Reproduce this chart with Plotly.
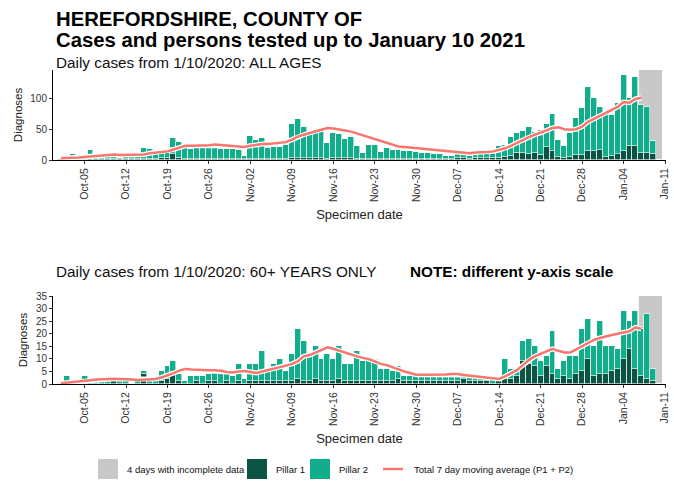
import plotly.graph_objects as go
import pandas as pd

# ---------------- DATA ----------------
dates = pd.date_range("2020-10-01", "2021-01-10", freq="D")

# ALL AGES: total daily cases (P1+P2) and Pillar 1 part
all_total = [2, 3, 9, 3, 4, 16, 5, 6, 5, 5, 4, 5, 6, 7, 20, 18, 12, 12, 13, 36, 30,
             20, 18, 19, 20, 21, 19, 18, 18, 18, 17,
             7, 39, 33, 35, 20, 21, 21, 25, 59, 66, 54, 43, 44, 47, 27, 43, 42, 34, 38, 23,
             12, 24, 24, 13, 19, 16, 16, 14, 14, 13,
             12, 12, 10, 9, 7, 7, 14, 8, 7, 9, 10, 9, 12, 22, 24, 38, 44, 47, 54, 46, 49,
             58, 74, 32, 22, 43, 68, 84, 119, 100, 86,
             78, 73, 92, 138, 100, 135, 90, 86, 31, 0]
all_pillar1 = [0, 0, 1, 0, 0, 1, 1, 1, 1, 1, 1, 1, 1, 1, 2, 2, 2, 3, 4, 9, 3,
               2, 2, 2, 2, 2, 2, 2, 2, 2, 2,
               1, 2, 2, 2, 2, 2, 2, 2, 3, 3, 3, 3, 3, 3, 2, 3, 3, 3, 3, 2,
               2, 2, 2, 2, 2, 2, 2, 2, 2, 2,
               2, 2, 2, 2, 2, 2, 3, 3, 2, 3, 3, 3, 3, 3, 5, 6, 11, 12, 9, 12, 8,
               21, 14, 5, 3, 5, 8, 8, 15, 14, 16,
               5, 7, 9, 15, 23, 23, 11, 11, 10, 0]
all_avg = [3, 3, 4, 4, 5, 6, 7, 8, 9, 9, 8, 8, 8, 8, 9, 11, 12, 13, 14, 17, 20,
           23, 23, 23, 24, 24, 25, 24, 23, 23, 22,
           21, 23, 25, 26, 26, 27, 27, 29, 33, 38, 41, 44, 47, 50, 52, 51, 50, 48, 46, 43,
           40, 37, 33, 30, 27, 24, 22, 21, 20, 19,
           18, 18, 17, 16, 15, 13, 12, 11, 11, 12, 12, 13, 14, 16, 19, 23, 28, 33, 37, 41, 44,
           48, 52, 53, 50, 49, 50, 54, 62, 67, 72,
           77, 82, 86, 94, 93, 99, 101, None, None, None]

# 60+ YEARS ONLY
old_total = [0, 3, 0, 1, 3, 1, 1, 1, 1, 1, 1, 1, 0, 1, 5, 2, 2, 5, 7, 9, 4,
             1, 3, 3, 3, 4, 5, 4, 4, 3, 8,
             2, 8, 8, 13, 6, 8, 10, 5, 12, 22, 17, 11, 15, 10, 12, 10, 15, 8, 8, 13,
             9, 9, 10, 6, 6, 5, 7, 3, 3, 4,
             4, 3, 3, 4, 3, 3, 3, 4, 3, 3, 2, 2, 2, 2, 10, 6, 6, 17, 18, 15, 9,
             11, 21, 6, 9, 11, 11, 22, 26, 15, 25,
             15, 15, 14, 29, 25, 29, 22, 28, 6, 0]
old_pillar1 = [0, 0, 0, 0, 0, 0, 0, 0, 0, 1, 0, 0, 0, 0, 4, 0, 0, 1, 2, 4, 1,
               0, 0, 1, 0, 1, 1, 0, 1, 0, 1,
               0, 1, 1, 1, 1, 1, 1, 1, 1, 2, 1, 1, 2, 1, 1, 1, 2, 1, 1, 1,
               1, 1, 1, 1, 1, 1, 2, 1, 1, 1,
               1, 1, 1, 1, 1, 1, 1, 2, 1, 1, 1, 1, 0, 1, 2, 2, 3, 9, 8, 7, 3,
               7, 4, 2, 3, 2, 4, 5, 10, 3, 4,
               4, 5, 6, 10, 14, 6, 3, 2, 1, 0]
old_avg = [0.3, 0.5, 0.6, 0.8, 1.2, 1.5, 1.8, 2.0, 2.1, 2.1, 2.0, 2.0, 1.8, 1.6, 1.7, 1.8, 2.0,
           2.6, 3.3, 4.3, 5.3, 6.0, 5.8, 5.6, 5.5, 5.5, 5.5, 5.3, 4.8, 4.6, 5.0,
           5.2, 4.8, 4.4, 5.0, 5.5, 6.2, 6.8, 7.3, 8.0, 9.0, 11.0, 11.5, 12.5, 13.6, 14.6,
           14.0, 13.2, 12.3, 11.7, 11.0, 10.4, 9.9, 9.0, 8.0, 7.5, 6.5, 5.8, 5.0, 4.2, 3.7,
           3.7, 3.7, 3.7, 3.6, 3.8, 4.0, 4.0, 3.6, 3.3, 3.0, 2.7, 2.4, 2.2, 2.0, 3.0, 4.3,
           5.5, 7.5, 9.5, 11.0, 12.0, 13.0, 14.0, 13.2, 12.5, 12.5, 13.8, 15.0, 16.5, 17.5,
           18.3, 19.0, 19.5, 20.0, 20.5, 21.0, 22.5, 22.0, None, None, None]

tick_dates = ["2020-10-05", "2020-10-12", "2020-10-19", "2020-10-26", "2020-11-02",
              "2020-11-09", "2020-11-16", "2020-11-23", "2020-11-30", "2020-12-07",
              "2020-12-14", "2020-12-21", "2020-12-28", "2021-01-04", "2021-01-11"]
tick_labels = ["Oct-05", "Oct-12", "Oct-19", "Oct-26", "Nov-02", "Nov-09", "Nov-16",
               "Nov-23", "Nov-30", "Dec-07", "Dec-14", "Dec-21", "Dec-28", "Jan-04", "Jan-11"]

all_pillar2 = [t - p for t, p in zip(all_total, all_pillar1)]
old_pillar2 = [t - p for t, p in zip(old_total, old_pillar1)]

# ---------------- STYLE ----------------
W, H = 674, 482
C_P1 = "#0b5443"
C_P2 = "#12ad8b"
C_GREY = "#c8c8c8"
C_LINE = "#f8766d"
FONT = "Liberation Sans, Arial, sans-serif"


def px_x(x):
    return x / W


def px_y(y):
    return 1 - y / H


fig = go.Figure()

for xa, ya, p1, p2, avg in [("x", "y", all_pillar1, all_pillar2, all_avg),
                            ("x2", "y2", old_pillar1, old_pillar2, old_avg)]:
    fig.add_trace(go.Bar(x=dates, y=p1, name="Pillar 1", marker_color=C_P1,
                         marker_line=dict(color="white", width=0.6),
                         xaxis=xa, yaxis=ya, showlegend=False))
    fig.add_trace(go.Bar(x=dates, y=p2, name="Pillar 2", marker_color=C_P2,
                         marker_line=dict(color="white", width=0.6),
                         xaxis=xa, yaxis=ya, showlegend=False))
    fig.add_trace(go.Scatter(x=dates, y=avg, mode="lines", line=dict(color="white", width=5),
                             xaxis=xa, yaxis=ya, showlegend=False, hoverinfo="skip"))
    fig.add_trace(go.Scatter(x=dates, y=avg, mode="lines", name="Total 7 day moving average (P1 + P2)",
                             line=dict(color=C_LINE, width=2.5),
                             xaxis=xa, yaxis=ya, showlegend=False))

xdom = [px_x(53), px_x(666)]
xrange_ = ["2020-09-29 16:00", "2021-01-11 04:00"]
common_x = dict(type="date", range=xrange_, tickvals=tick_dates, ticktext=tick_labels,
                tickangle=-90, ticks="outside", ticklen=3, tickcolor="#333", automargin=False,
                ticklabeloverflow="allow",
                showline=True, linecolor="black", linewidth=1, showgrid=False, zeroline=False,
                tickfont=dict(size=10.5, color="#333", family=FONT),
                title=dict(text="Specimen date", font=dict(size=13, color="#222", family=FONT), standoff=8))
common_y = dict(ticks="outside", ticklen=3, tickcolor="#333", showline=True, linecolor="black",
                linewidth=1, showgrid=False, zeroline=False, automargin=False,
                tickfont=dict(size=10, color="#333", family=FONT),
                title=dict(text="Diagnoses", font=dict(size=11.5, color="#222", family=FONT), standoff=5))

fig.update_layout(
    width=W, height=H, margin=dict(l=0, r=0, t=0, b=0, autoexpand=False),
    plot_bgcolor="white", paper_bgcolor="white",
    barmode="stack", bargap=0, showlegend=False,
    font=dict(family=FONT),
    xaxis=dict(domain=xdom, anchor="y", **common_x),
    yaxis=dict(domain=[px_y(160), px_y(70)], anchor="x", range=[0, 146], tickvals=[0, 50, 100], **common_y),
    xaxis2=dict(domain=xdom, anchor="y2", **common_x),
    yaxis2=dict(domain=[px_y(384), px_y(296)], anchor="x2", range=[0, 35],
                tickvals=[0, 5, 10, 15, 20, 25, 30, 35], **common_y),
)

# incomplete-data shading
for yr in ["y domain", "y2 domain"]:
    fig.add_shape(type="rect", xref="x" if yr == "y domain" else "x2", yref=yr,
                  x0="2021-01-06 14:00", x1="2021-01-10 12:00", y0=0, y1=1,
                  fillcolor=C_GREY, line=dict(width=0), layer="below")


def note(text, x, y, size, bold=False, color="black", xanchor="left"):
    fig.add_annotation(text=f"<b>{text}</b>" if bold else text, x=px_x(x), y=px_y(y),
                       xref="paper", yref="paper", xanchor=xanchor, yanchor="middle",
                       showarrow=False, font=dict(size=size, color=color, family=FONT))


note("HEREFORDSHIRE, COUNTY OF", 54, 19, 20.3, bold=True)
note("Cases and persons tested up to January 10 2021", 54, 40, 20.3, bold=True)
note("Daily cases from 1/10/2020: ALL AGES", 54, 63, 15.3, color="#111")
note("Daily cases from 1/10/2020: 60+ YEARS ONLY", 54, 271, 15.3, color="#111")
note("NOTE: different y-axis scale", 408, 271, 15.3, bold=True)

# legend (drawn)
legend_items = [("rect", C_GREY, "4 days with incomplete data", 98, 125),
                ("rect", C_P1, "Pillar 1", 247, 274),
                ("rect", C_P2, "Pillar 2", 310, 337),
                ("line", C_LINE, "Total 7 day moving average (P1 + P2)", 383, 412)]
LY = 469
for kind, col, label, x0, tx in legend_items:
    if kind == "rect":
        fig.add_shape(type="rect", xref="paper", yref="paper", x0=px_x(x0), x1=px_x(x0 + 20),
                      y0=px_y(LY + 10), y1=px_y(LY - 10), fillcolor=col, line=dict(width=0))
    else:
        fig.add_shape(type="line", xref="paper", yref="paper", x0=px_x(x0), x1=px_x(x0 + 20),
                      y0=px_y(LY), y1=px_y(LY), line=dict(color=col, width=2.5))
    note(label, tx, LY, 9.5, color="#111")

fig.write_html("out.html", config={"displayModeBar": False},
               post_script="document.body.style.margin='0';document.body.style.overflow='hidden';")
